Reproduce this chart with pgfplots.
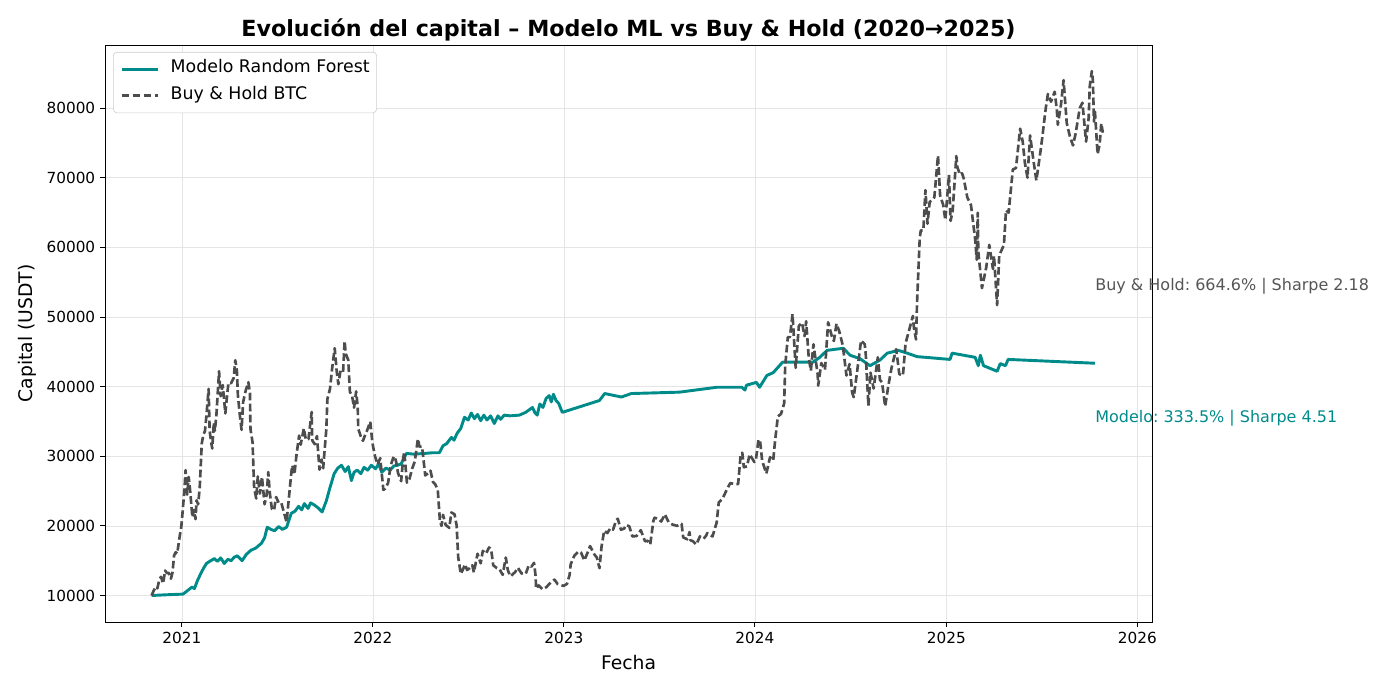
\documentclass[border=0pt]{standalone}
\usepackage{fontspec}
\setmainfont{DejaVu Sans}
\usepackage{pgfplots}
\usepackage{pgfplotstable}
\pgfplotsset{compat=1.18}
\usepgfplotslibrary{dateplot}
\definecolor{mlteal}{HTML}{008B8B}
\definecolor{bhgray}{HTML}{4D4D4D}
\definecolor{annogray}{HTML}{555555}

\pgfplotstableread{
date val
2020-11-04 10000
2020-12-01 10100
2021-01-03 10200
2021-01-10 10600
2021-01-15 10900
2021-01-20 11200
2021-01-25 11000
2021-01-31 12200
2021-02-07 13300
2021-02-12 14000
2021-02-17 14600
2021-02-23 14900
2021-03-04 15300
2021-03-10 14900
2021-03-16 15400
2021-03-23 14600
2021-03-30 15200
2021-04-05 15000
2021-04-11 15500
2021-04-17 15700
2021-04-26 15000
2021-05-04 15900
2021-05-13 16500
2021-05-22 16800
2021-06-02 17500
2021-06-08 18300
2021-06-13 19800
2021-06-20 19500
2021-06-27 19300
2021-07-05 19900
2021-07-12 19500
2021-07-20 19800
2021-07-29 21800
2021-08-05 22100
2021-08-12 22800
2021-08-18 22300
2021-08-23 23200
2021-08-30 22500
2021-09-04 23300
2021-09-11 23000
2021-09-18 22600
2021-09-26 22000
2021-10-04 23600
2021-10-11 25500
2021-10-19 27500
2021-10-26 28300
2021-11-02 28700
2021-11-09 27800
2021-11-15 28500
2021-11-21 26500
2021-11-26 27700
2021-12-02 28000
2021-12-09 27500
2021-12-15 28400
2021-12-22 28000
2021-12-29 28700
2022-01-06 28200
2022-01-12 28900
2022-01-18 27700
2022-01-26 28300
2022-02-03 28000
2022-02-10 28600
2022-02-17 28700
2022-02-24 28900
2022-03-06 30400
2022-03-20 30300
2022-04-10 30400
2022-04-25 30500
2022-05-08 30500
2022-05-15 31500
2022-05-22 31800
2022-05-31 32700
2022-06-05 32300
2022-06-11 33300
2022-06-18 34000
2022-06-25 35600
2022-07-02 35200
2022-07-08 36200
2022-07-14 35400
2022-07-20 36000
2022-07-26 35100
2022-08-01 35900
2022-08-07 35200
2022-08-14 35800
2022-08-21 34700
2022-08-28 35800
2022-09-02 35300
2022-09-09 35900
2022-09-20 35800
2022-10-08 35900
2022-10-20 36300
2022-11-02 37000
2022-11-07 36200
2022-11-11 35900
2022-11-16 37500
2022-11-22 37000
2022-11-28 38300
2022-12-04 38700
2022-12-08 37800
2022-12-12 38900
2022-12-17 38000
2022-12-22 37600
2022-12-29 36300
2023-03-10 38000
2023-03-20 39000
2023-04-21 38500
2023-05-10 39000
2023-08-10 39200
2023-10-20 39900
2023-12-07 39900
2023-12-13 39500
2023-12-16 40200
2024-01-04 40600
2024-01-10 39900
2024-01-24 41600
2024-02-05 42000
2024-02-23 43500
2024-04-21 43500
2024-05-04 44200
2024-05-18 45200
2024-06-18 45500
2024-07-01 44500
2024-07-20 44000
2024-08-08 43000
2024-08-27 43800
2024-09-10 44800
2024-10-01 45200
2024-10-18 44800
2024-11-06 44300
2025-01-08 43900
2025-01-12 44800
2025-02-25 44200
2025-03-03 43000
2025-03-07 44500
2025-03-13 43000
2025-04-08 42200
2025-04-14 43300
2025-04-24 43000
2025-04-29 43900
2025-10-12 43350
}\modeltbl

\pgfplotstableread{
date val
2020-11-04 10000
2020-11-08 10690
2020-11-12 11240
2020-11-15 11030
2020-11-19 12280
2020-11-22 12690
2020-11-26 11720
2020-11-30 13590
2020-12-03 13240
2020-12-07 13240
2020-12-11 12410
2020-12-14 13310
2020-12-17 15720
2020-12-20 16210
2020-12-23 16000
2020-12-27 18140
2020-12-31 20000
2021-01-03 22620
2021-01-06 25380
2021-01-08 28000
2021-01-11 24480
2021-01-14 27030
2021-01-17 24830
2021-01-21 21240
2021-01-24 22280
2021-01-27 20970
2021-01-29 23660
2021-02-01 23100
2021-02-04 25450
2021-02-08 31860
2021-02-11 33100
2021-02-14 33590
2021-02-17 35930
2021-02-21 39660
2021-02-23 33660
2021-02-26 31930
2021-02-28 31100
2021-03-03 34830
2021-03-05 33660
2021-03-08 36000
2021-03-13 42210
2021-03-16 38620
2021-03-20 40210
2021-03-25 36140
2021-03-28 38480
2021-03-31 40550
2021-04-05 40480
2021-04-10 41240
2021-04-13 43790
2021-04-16 42350
2021-04-18 38760
2021-04-22 35660
2021-04-25 33790
2021-04-28 37790
2021-05-03 39450
2021-05-08 40620
2021-05-11 39100
2021-05-12 33930
2021-05-16 32000
2021-05-19 25520
2021-05-23 23930
2021-05-26 27100
2021-05-30 24620
2021-06-03 27030
2021-06-08 23100
2021-06-12 24480
2021-06-15 27720
2021-06-18 24690
2021-06-22 22410
2021-06-26 22210
2021-06-30 24140
2021-07-05 23310
2021-07-10 23310
2021-07-15 21930
2021-07-20 20550
2021-07-25 24410
2021-07-29 27590
2021-07-31 28690
2021-08-04 27380
2021-08-08 30210
2021-08-13 32970
2021-08-16 31660
2021-08-22 34000
2021-08-26 32350
2021-08-31 32480
2021-09-03 34480
2021-09-06 36350
2021-09-07 32280
2021-09-12 31720
2021-09-16 32900
2021-09-21 28070
2021-09-25 29520
2021-09-28 28280
2021-09-30 30210
2021-10-04 33860
2021-10-06 38210
2021-10-11 39660
2021-10-15 42550
2021-10-20 45520
2021-10-24 42070
2021-10-27 40340
2021-10-31 42280
2021-11-05 42070
2021-11-08 46550
2021-11-10 44760
2021-11-15 43790
2021-11-18 39240
2021-11-22 38760
2021-11-26 36970
2021-11-30 39310
2021-12-03 37030
2021-12-04 33930
2021-12-09 32830
2021-12-13 32210
2021-12-16 32830
2021-12-21 33720
2021-12-27 34970
2021-12-31 31930
2022-01-05 30000
2022-01-10 28830
2022-01-15 29720
2022-01-21 25170
2022-01-24 25310
2022-01-30 26140
2022-02-04 28690
2022-02-10 30000
2022-02-14 29380
2022-02-18 27590
2022-02-24 26410
2022-02-28 29790
2022-03-02 30620
2022-03-07 26210
2022-03-12 26760
2022-03-17 28210
2022-03-22 29240
2022-03-28 32480
2022-03-31 31380
2022-04-05 31380
2022-04-11 27240
2022-04-17 27590
2022-04-21 27930
2022-04-26 26280
2022-04-30 26000
2022-05-05 25170
2022-05-09 20760
2022-05-12 20000
2022-05-15 21590
2022-05-20 20140
2022-05-27 19720
2022-05-31 21930
2022-06-06 21660
2022-06-10 20070
2022-06-13 15520
2022-06-18 13100
2022-06-22 13720
2022-06-26 14480
2022-06-30 13660
2022-07-05 13930
2022-07-10 14340
2022-07-13 13310
2022-07-20 16000
2022-07-26 14620
2022-07-30 16410
2022-08-05 16000
2022-08-11 16900
2022-08-15 16620
2022-08-19 14340
2022-08-26 13930
2022-08-31 13790
2022-09-06 12970
2022-09-12 15450
2022-09-16 13590
2022-09-21 12760
2022-09-27 13170
2022-09-30 13380
2022-10-05 14000
2022-10-12 13170
2022-10-20 13100
2022-10-26 14340
2022-10-31 14140
2022-11-05 14690
2022-11-08 12760
2022-11-09 10970
2022-11-14 11450
2022-11-21 10900
2022-11-28 11170
2022-12-05 11720
2022-12-14 12280
2022-12-20 11660
2022-12-31 11380
2023-01-07 11660
2023-01-12 12970
2023-01-14 14480
2023-01-21 15720
2023-01-29 16340
2023-02-03 16140
2023-02-09 15030
2023-02-16 16280
2023-02-20 17100
2023-02-28 15930
2023-03-05 15450
2023-03-10 13930
2023-03-14 17030
2023-03-19 19310
2023-03-25 18970
2023-03-31 19660
2023-04-05 19450
2023-04-11 20830
2023-04-14 21030
2023-04-20 19450
2023-04-26 19590
2023-04-30 20140
2023-05-06 19930
2023-05-12 18480
2023-05-20 18550
2023-05-28 19380
2023-06-05 17790
2023-06-10 17860
2023-06-15 17310
2023-06-21 20690
2023-06-23 21170
2023-06-30 21030
2023-07-06 20620
2023-07-13 21660
2023-07-20 20550
2023-07-27 20210
2023-08-05 20000
2023-08-14 20280
2023-08-17 18340
2023-08-25 18070
2023-08-29 19100
2023-08-31 17930
2023-09-05 17790
2023-09-11 17310
2023-09-18 18480
2023-09-25 18140
2023-09-30 18620
2023-10-02 18970
2023-10-12 18480
2023-10-20 20480
2023-10-24 23380
2023-10-31 23860
2023-11-09 25310
2023-11-15 26140
2023-11-24 26000
2023-11-30 26000
2023-12-05 30340
2023-12-08 30480
2023-12-11 28410
2023-12-17 28550
2023-12-22 30280
2023-12-31 29170
2024-01-03 29520
2024-01-08 32410
2024-01-11 32140
2024-01-15 29310
2024-01-23 27520
2024-01-30 29860
2024-02-05 29380
2024-02-09 32480
2024-02-14 35720
2024-02-20 36070
2024-02-26 37590
2024-02-28 43030
2024-03-04 47100
2024-03-08 47100
2024-03-13 50410
2024-03-19 42690
2024-03-25 48690
2024-03-31 49170
2024-04-05 47240
2024-04-08 49380
2024-04-13 44140
2024-04-17 42280
2024-04-22 46070
2024-04-30 41790
2024-05-01 40140
2024-05-07 43380
2024-05-14 42410
2024-05-20 49240
2024-05-27 47240
2024-05-31 46550
2024-06-05 49030
2024-06-10 48000
2024-06-17 45930
2024-06-24 41590
2024-06-30 43240
2024-07-05 39100
2024-07-08 38480
2024-07-14 41930
2024-07-22 46620
2024-07-29 46070
2024-07-31 44550
2024-08-05 37240
2024-08-09 42000
2024-08-15 39720
2024-08-23 44210
2024-08-27 40970
2024-08-31 40620
2024-09-06 37170
2024-09-12 40070
2024-09-18 42620
2024-09-27 45380
2024-09-30 43660
2024-10-03 41790
2024-10-10 41590
2024-10-15 46210
2024-10-20 47590
2024-10-29 50140
2024-10-31 48410
2024-11-04 46760
2024-11-06 52140
2024-11-11 61170
2024-11-13 62410
2024-11-18 62410
2024-11-22 68210
2024-11-26 63380
2024-11-30 66480
2024-12-05 66830
2024-12-09 67170
2024-12-16 73170
2024-12-20 67450
2024-12-26 66070
2024-12-30 63930
2025-01-06 70410
2025-01-09 63790
2025-01-13 65170
2025-01-20 73100
2025-01-22 71520
2025-01-27 70410
2025-01-31 70620
2025-02-03 69930
2025-02-10 67170
2025-02-17 66070
2025-02-25 61170
2025-02-28 58210
2025-03-02 64970
2025-03-03 59380
2025-03-10 54140
2025-03-18 57030
2025-03-24 60350
2025-03-31 56900
2025-04-02 58760
2025-04-08 51700
2025-04-12 58830
2025-04-21 60350
2025-04-25 65310
2025-04-30 64970
2025-05-08 71170
2025-05-14 71380
2025-05-22 77040
2025-05-27 75100
2025-05-31 72140
2025-06-05 70000
2025-06-10 76070
2025-06-17 72140
2025-06-22 69590
2025-06-30 73860
2025-07-03 75590
2025-07-10 80000
2025-07-14 82000
2025-07-20 80900
2025-07-27 82340
2025-07-31 79790
2025-08-02 77590
2025-08-08 80480
2025-08-13 84000
2025-08-19 77860
2025-08-25 75930
2025-08-31 74620
2025-09-05 76340
2025-09-13 80000
2025-09-18 80760
2025-09-25 75170
2025-09-30 78620
2025-10-02 83100
2025-10-06 85300
2025-10-08 84000
2025-10-10 78070
2025-10-12 79450
2025-10-17 73380
2025-10-21 74830
2025-10-24 77800
2025-10-27 76460
}\bhtbl

\begin{document}
\frenchspacing
\begin{tikzpicture}
\path[use as bounding box] (-75.6pt,-50.4pt) rectangle (921.6pt,447.84pt);
\begin{axis}[
  at={(0,0)}, anchor=south west,
  scale only axis, width=753.84pt, height=415.44pt,
  date coordinates in=x,
  xmin=2020-08-07, xmax=2026-01-29,
  ymin=6195, ymax=89047,
  xtick={2021-01-01,2022-01-01,2023-01-01,2024-01-01,2025-01-01,2026-01-01},
  xticklabel={\year},
  ytick={10000,20000,30000,40000,50000,60000,70000,80000},
  scaled y ticks=false,
  yticklabel style={/pgf/number format/.cd, fixed, precision=0, 1000 sep={}, assume math mode=true},
  tick label style={font=\fontsize{11}{13}\selectfont},
  tick align=outside, tick pos=left,
  major tick length=3.5pt,
  tick style={black, line width=0.6pt},
  axis line style={black, line width=0.6pt},
  grid=major,
  major grid style={line width=0.5pt, color=black!10},
  clip mode=individual,
  title={Evolución del capital – Modelo ML vs Buy \& Hold (2020→2025)},
  title style={at={(axis description cs:0.5,1.0)}, anchor=base, yshift=0pt, font=\bfseries\fontsize{16}{18}\selectfont},
  xlabel={Fecha},
  xlabel style={at={(axis description cs:0.5,-0.0710)}, anchor=center, font=\fontsize{13.5}{15}\selectfont},
  ylabel={Capital (USDT)},
  ylabel style={at={(axis description cs:-0.0746,0.5)}, anchor=center, font=\fontsize{13.5}{15}\selectfont},
  legend style={at={(axis description cs:0,1)}, anchor=north west, xshift=5.8pt, yshift=-5pt,
    draw=black!20, fill=white, rounded corners=2.5pt, inner xsep=5pt, inner ysep=7.3pt,
    row sep=9pt, font=\fontsize{12.5}{15}\selectfont,
    nodes={inner sep=0pt, text height=0.75em, text depth=0.25em},
    /tikz/every odd column/.append style={column sep=8.2pt}},
  legend cell align=left,
  legend image code/.code={\draw[#1] (0pt,0pt) -- (26pt,0pt);},
]
\addplot[mlteal, line width=2.1pt, line join=round] table[x=date, y=val] {\modeltbl};
\addlegendentry{Modelo Random Forest}
\addplot[bhgray, line width=1.9pt, dash pattern=on 5.5pt off 2.4pt, line join=round] table[x=date, y=val] {\bhtbl};
\addlegendentry{Buy \& Hold BTC}
\node[anchor=west, text=annogray, font=\fontsize{11.5}{13}\selectfont, inner sep=0pt] at (rel axis cs:0.9456,0.5823) {Buy \& Hold: 664.6\% | Sharpe 2.18};
\node[anchor=west, text=mlteal, font=\fontsize{11.5}{13}\selectfont, inner sep=0pt] at (rel axis cs:0.9456,0.3536) {Modelo: 333.5\% | Sharpe 4.51};
\end{axis}
\end{tikzpicture}
\end{document}
